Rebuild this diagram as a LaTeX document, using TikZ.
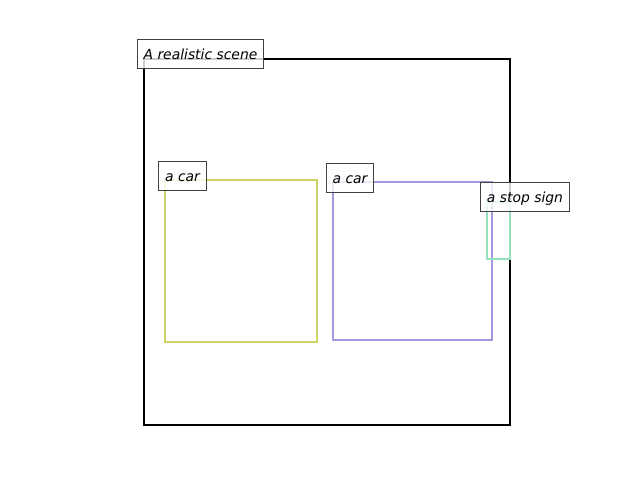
\documentclass[tikz,border=0pt]{standalone}
\usepackage{fontspec}
\setmainfont{DejaVu Sans}
\begin{document}
\begin{tikzpicture}[x=0.72pt,y=-0.72pt,
  box/.style={line width=1.5pt},
  lbl/.style={draw=black!75, line width=0.7pt, fill=white, fill opacity=0.8, text opacity=1,
    font=\fontsize{10pt}{12pt}\selectfont\itshape, inner xsep=4.5pt, inner ysep=5.3pt,
    text height=8.7pt, text depth=1.2pt}]
\definecolor{cyel}{RGB}{206,212,100}
\definecolor{cpur}{RGB}{166,152,224}
\definecolor{cgrn}{RGB}{150,224,190}
\useasboundingbox (0,0) rectangle (640,480);
\draw[box, black] (144,59) rectangle (510,425);
\draw[box, cyel] (165,180) rectangle (317,342);
\draw[box, cpur] (333,182) rectangle (492,340);
\draw[box, cgrn] (487,202) rectangle (510,259);
\node[lbl] (scene) at (200.5,54) {A realistic scene};
\node[lbl] (car1) at (182.5,176) {a car};
\node[lbl] (car2) at (350,178) {a car};
\node[lbl] (stop) at (525,197) {a stop sign};
\end{tikzpicture}
\end{document}
